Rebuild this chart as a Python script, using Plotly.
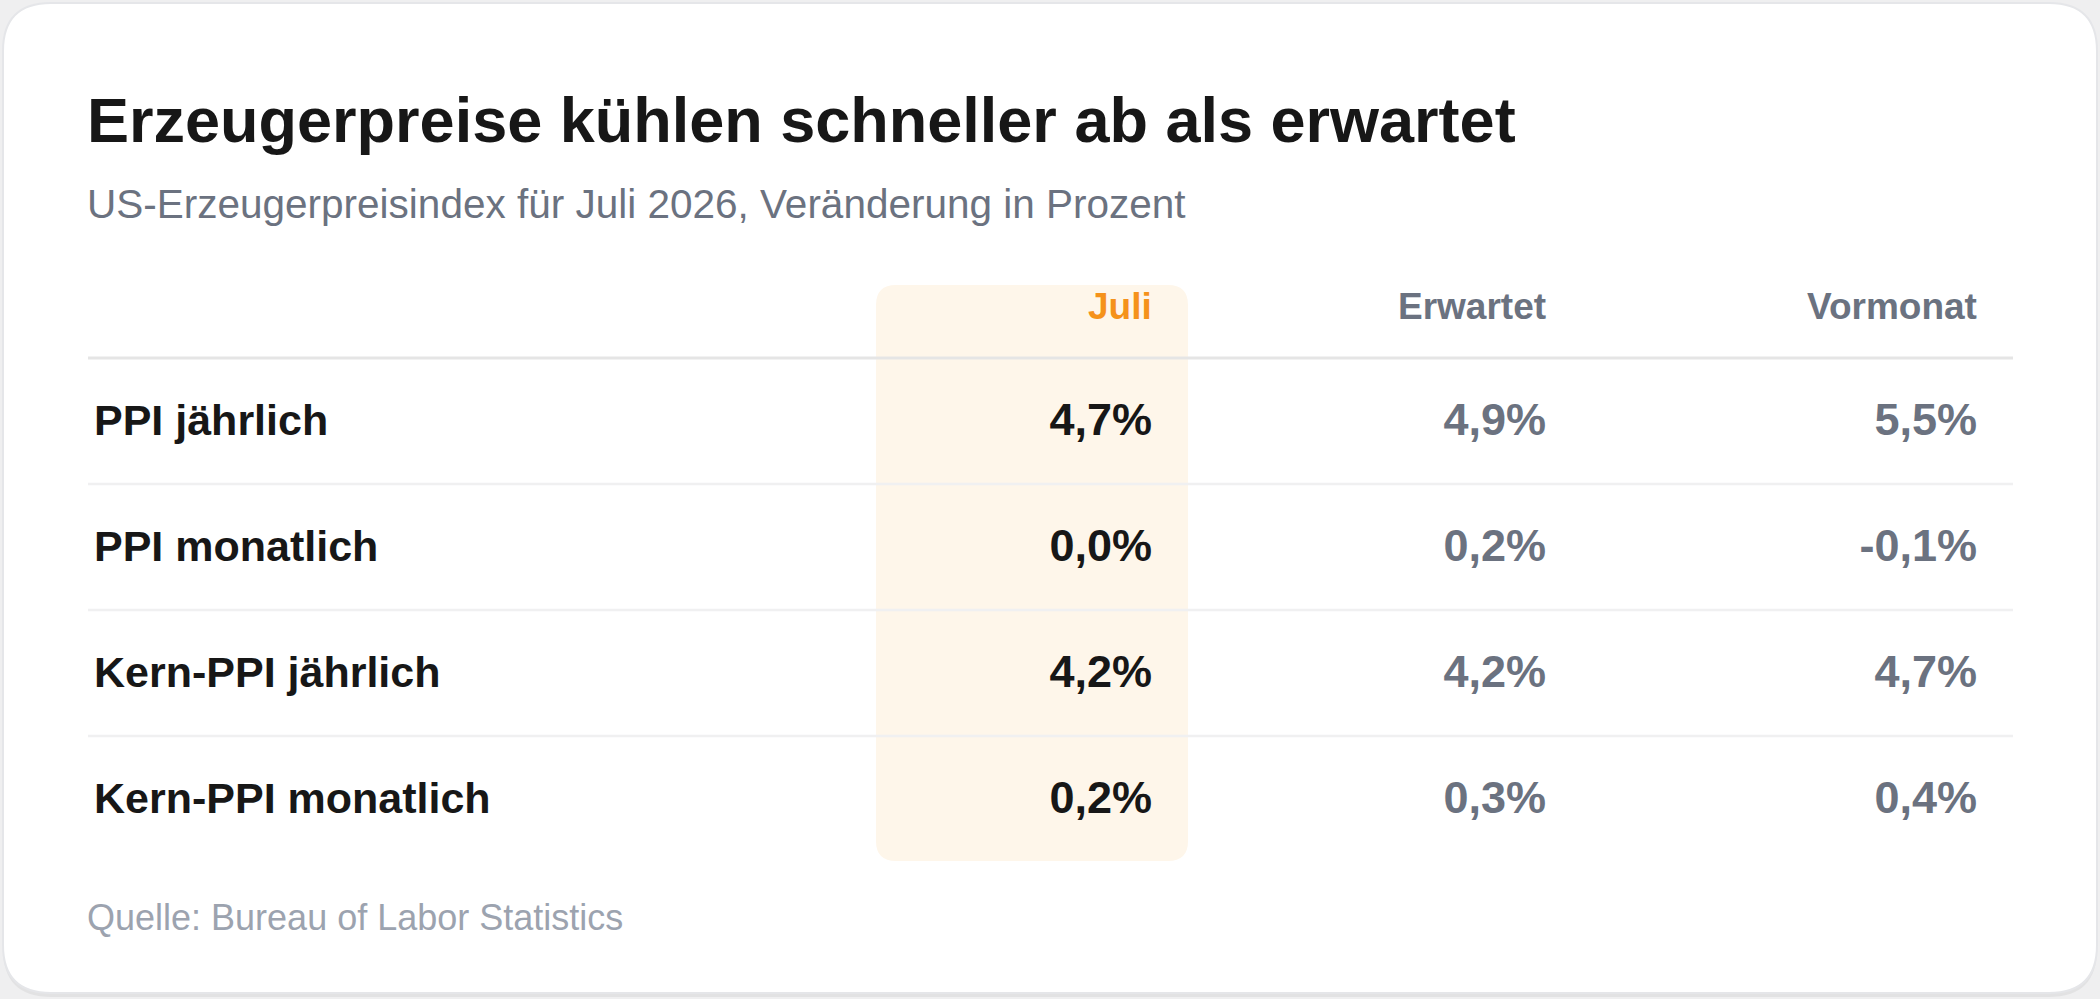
import plotly.graph_objects as go

# Tabellendaten (Veränderung in Prozent)
rows = ["PPI jährlich", "PPI monatlich", "Kern-PPI jährlich", "Kern-PPI monatlich"]
columns = ["Juli", "Erwartet", "Vormonat"]
juli = [4.7, 0.0, 4.2, 0.2]
erwartet = [4.9, 0.2, 4.2, 0.3]
vormonat = [5.5, -0.1, 4.7, 0.4]

title = "Erzeugerpreise kühlen schneller ab als erwartet"
subtitle = "US-Erzeugerpreisindex für Juli 2026, Veränderung in Prozent"
source = "Quelle: Bureau of Labor Statistics"

# Layout in Pixeln
W, H = 2100, 999
LEFT, RIGHT = 88, 2013
HEAD_Y = 306
HEAD_LINE = 358
ROW_H = 126
COL_RIGHT = [1152, 1546, 1977]
FONT = "Liberation Sans, Arial, sans-serif"
DARK = "#171717"
GRAY = "#6b7280"
ORANGE = "#f5921b"


def pct(v):
    return f"{v:.1f}".replace(".", ",") + "%"


def rounded_rect(x0, y0, x1, y1, r):
    return (f"M{x0+r},{y0} L{x1-r},{y0} Q{x1},{y0} {x1},{y0+r} "
            f"L{x1},{y1-r} Q{x1},{y1} {x1-r},{y1} L{x0+r},{y1} "
            f"Q{x0},{y1} {x0},{y1-r} L{x0},{y0+r} Q{x0},{y0} {x0+r},{y0} Z")


row_y = [HEAD_LINE + ROW_H * (i + 0.5) + 3 for i in range(len(rows))]

fig = go.Figure()

# Zeilenbeschriftungen
fig.add_trace(go.Scatter(
    x=[LEFT + 6] * len(rows), y=row_y, text=rows,
    mode="text", textposition="middle right",
    textfont=dict(family=FONT, size=43, color=DARK, weight="bold"),
    hoverinfo="skip", showlegend=False))

# Werte je Spalte
for j, vals in enumerate([juli, erwartet, vormonat]):
    fig.add_trace(go.Scatter(
        x=[COL_RIGHT[j]] * len(vals), y=row_y, text=[pct(v) for v in vals],
        mode="text", textposition="middle left",
        textfont=dict(family=FONT, size=45, color=DARK if j == 0 else GRAY, weight="bold"),
        name=columns[j], hoverinfo="skip", showlegend=False))

shapes = [
    # Schatten + Karte
    dict(type="path", path=rounded_rect(3, 7, 2097, 997, 48), fillcolor="rgba(0,0,0,0.05)",
         line=dict(width=0), layer="below"),
    dict(type="path", path=rounded_rect(3, 3, 2097, 993, 48), fillcolor="white",
         line=dict(color="#e5e6e9", width=2), layer="below"),
    # Hervorhebung Spalte "Juli"
    dict(type="path", path=rounded_rect(876, 285, 1188, 861, 20), fillcolor="#fef6ea",
         line=dict(width=0), layer="below"),
    # Kopflinie
    dict(type="line", x0=LEFT, x1=RIGHT, y0=HEAD_LINE, y1=HEAD_LINE,
         line=dict(color="#e5e5e5", width=3), layer="below"),
]
for i in range(1, len(rows)):
    y = HEAD_LINE + ROW_H * i
    shapes.append(dict(type="line", x0=LEFT, x1=RIGHT, y0=y, y1=y,
                       line=dict(color="#f0f0f1", width=2.5), layer="below"))

annotations = [
    dict(x=LEFT - 2, y=120, text=f"<b>{title}</b>", xanchor="left", yanchor="middle",
         showarrow=False, borderpad=0, font=dict(family=FONT, size=63, color=DARK)),
    dict(x=LEFT - 2, y=204, text=subtitle, xanchor="left", yanchor="middle",
         showarrow=False, borderpad=0, font=dict(family=FONT, size=40.5, color=GRAY)),
    dict(x=LEFT - 2, y=917, text=source, xanchor="left", yanchor="middle",
         showarrow=False, borderpad=0, font=dict(family=FONT, size=36, color="#9ca3af")),
]
for j, col in enumerate(columns):
    annotations.append(dict(
        x=COL_RIGHT[j] + 1, y=HEAD_Y, text=f"<b>{col}</b>", xanchor="right", yanchor="middle",
        showarrow=False, borderpad=0,
        font=dict(family=FONT, size=37, color=ORANGE if j == 0 else GRAY)))

fig.update_layout(
    width=W, height=H,
    margin=dict(l=0, r=0, t=0, b=0),
    paper_bgcolor="#efeff0", plot_bgcolor="rgba(0,0,0,0)",
    xaxis=dict(range=[0, W], visible=False, fixedrange=True),
    yaxis=dict(range=[H, 0], visible=False, fixedrange=True),
    shapes=shapes, annotations=annotations,
)

fig.write_html("out.html", config=dict(displayModeBar=False),
               post_script="document.body.style.margin='0';document.body.style.overflow='hidden';")
